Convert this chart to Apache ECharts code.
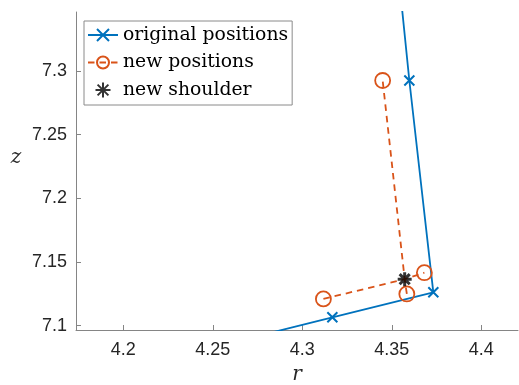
<!DOCTYPE html>
<html>
<head>
<meta charset="utf-8">
<script src="https://cdn.jsdelivr.net/npm/echarts@6/dist/echarts.min.js"></script>
<style>
  html, body { margin: 0; padding: 0; background: #fff; }
  #chart { width: 519px; height: 385px; }
</style>
</head>
<body>
<div id="chart"></div>
<script>
// Shoulder geometry in the (r, z) plane
const origR = [4.2605, 4.3168, 4.3732, 4.3598, 4.3477];
const origZ = [7.0867, 7.1066, 7.1262, 7.2926, 7.4600];

// new positions: upper branch ends at the shoulder, short links from the shoulder to the two corner nodes
const newUpperR = [4.3118, 4.3572, 4.3449];
const newUpperZ = [7.1210, 7.1365, 7.2926];
const newUpperMarked = [true, false, true];
const newLowerR = [4.3584, 4.3572, 4.3682];
const newLowerZ = [7.1249, 7.1365, 7.1416];
const newLowerMarked = [true, false, true];

const shoulderR = [4.3572];
const shoulderZ = [7.1365];

const xTicks = [4.2, 4.25, 4.3, 4.35, 4.4];
const yTicks = [7.1, 7.15, 7.2, 7.25, 7.3];
const xRange = [4.1736, 4.4205];
const yRange = [7.0966, 7.3464];

const BLUE = '#0072BD';
const ORANGE = '#D95319';
const AXIS = '#858585';
const TEXT = '#262626';
const LABEL_FONT = 'italic 20px "DejaVu Serif", serif';

const pairs = (xs, ys) => xs.map((x, i) => [x, ys[i]]);
const markedPairs = (xs, ys, marked) =>
  xs.map((x, i) => marked[i] ? [x, ys[i]] : { value: [x, ys[i]], symbol: 'none' });

const crossPath = 'path://M-1,-1L1,1M-1,1L1,-1';
const starPath = 'path://M0,-1L0,1M-1,0L1,0M-0.72,-0.72L0.72,0.72M-0.72,0.72L0.72,-0.72';

const chart = echarts.init(document.getElementById('chart'), null, { renderer: 'canvas' });

const axisCommon = {
  type: 'value',
  axisLine: { show: true, onZero: false, lineStyle: { color: AXIS, width: 1 } },
  axisTick: { show: true, inside: true, length: 5, lineStyle: { color: AXIS, width: 1 } },
  splitLine: { show: false },
  axisLabel: {
    color: TEXT,
    fontFamily: 'Liberation Sans, Arial, sans-serif',
    fontSize: 18
  }
};

chart.setOption({
  animation: false,
  backgroundColor: '#fff',
  grid: { left: 76, right: 1, top: 12, bottom: 55, containLabel: false, outerBoundsMode: 'none' },
  xAxis: Object.assign({}, axisCommon, {
    min: xRange[0], max: xRange[1],
    axisTick: Object.assign({}, axisCommon.axisTick, { customValues: xTicks }),
    axisLabel: Object.assign({}, axisCommon.axisLabel, { customValues: xTicks, margin: 11 }),
    name: 'r',
    nameLocation: 'middle',
    nameGap: 35,
    nameTextStyle: { fontFamily: 'DejaVu Serif, serif', fontStyle: 'italic', fontSize: 20, color: TEXT }
  }),
  yAxis: Object.assign({}, axisCommon, {
    min: yRange[0], max: yRange[1],
    axisTick: Object.assign({}, axisCommon.axisTick, { customValues: yTicks }),
    axisLabel: Object.assign({}, axisCommon.axisLabel, { customValues: yTicks, margin: 9 })
  }),
  // y-axis title, upright and sitting a little above the axis middle
  graphic: [{
    type: 'text',
    x: 16,
    y: 158,
    style: { text: 'z', font: LABEL_FONT, fill: TEXT, align: 'center', verticalAlign: 'middle' }
  }],
  legend: {
    data: ['original positions', 'new positions', 'new shoulder'],
    orient: 'vertical',
    left: 84,
    top: 21,
    backgroundColor: '#fff',
    borderColor: '#8a8a8a',
    borderWidth: 1,
    borderRadius: 0,
    padding: [4, 4, 5, 3],
    itemWidth: 30,
    itemHeight: 15,
    itemGap: 7.5,
    textStyle: { fontFamily: 'DejaVu Serif, serif', fontSize: 18.8, color: '#000', lineHeight: 20 }
  },
  series: [
    {
      name: 'original positions',
      type: 'line',
      data: pairs(origR, origZ),
      symbol: crossPath,
      symbolSize: 10,
      showAllSymbol: true,
      lineStyle: { color: BLUE, width: 1.8 },
      itemStyle: { color: 'rgba(0,0,0,0)', borderColor: BLUE, borderWidth: 2 },
      clip: true,
      z: 2
    },
    {
      name: 'new positions',
      type: 'line',
      data: markedPairs(newUpperR, newUpperZ, newUpperMarked),
      symbol: 'circle',
      symbolSize: 15,
      showAllSymbol: true,
      lineStyle: { color: ORANGE, width: 1.8, type: [6.5, 5] },
      itemStyle: { color: 'rgba(0,0,0,0)', borderColor: ORANGE, borderWidth: 1.8 },
      clip: true,
      z: 3
    },
    {
      name: 'new positions',
      type: 'line',
      data: markedPairs(newLowerR, newLowerZ, newLowerMarked),
      symbol: 'circle',
      symbolSize: 15,
      showAllSymbol: true,
      lineStyle: { color: ORANGE, width: 1.8, type: [6.5, 5] },
      itemStyle: { color: 'rgba(0,0,0,0)', borderColor: ORANGE, borderWidth: 1.8 },
      clip: true,
      z: 3
    },
    {
      name: 'new shoulder',
      type: 'scatter',
      data: pairs(shoulderR, shoulderZ),
      symbol: starPath,
      symbolSize: 14,
      itemStyle: { color: 'rgba(0,0,0,0)', borderColor: '#000', borderWidth: 3 },
      z: 4
    }
  ]
});
</script>
</body>
</html>
